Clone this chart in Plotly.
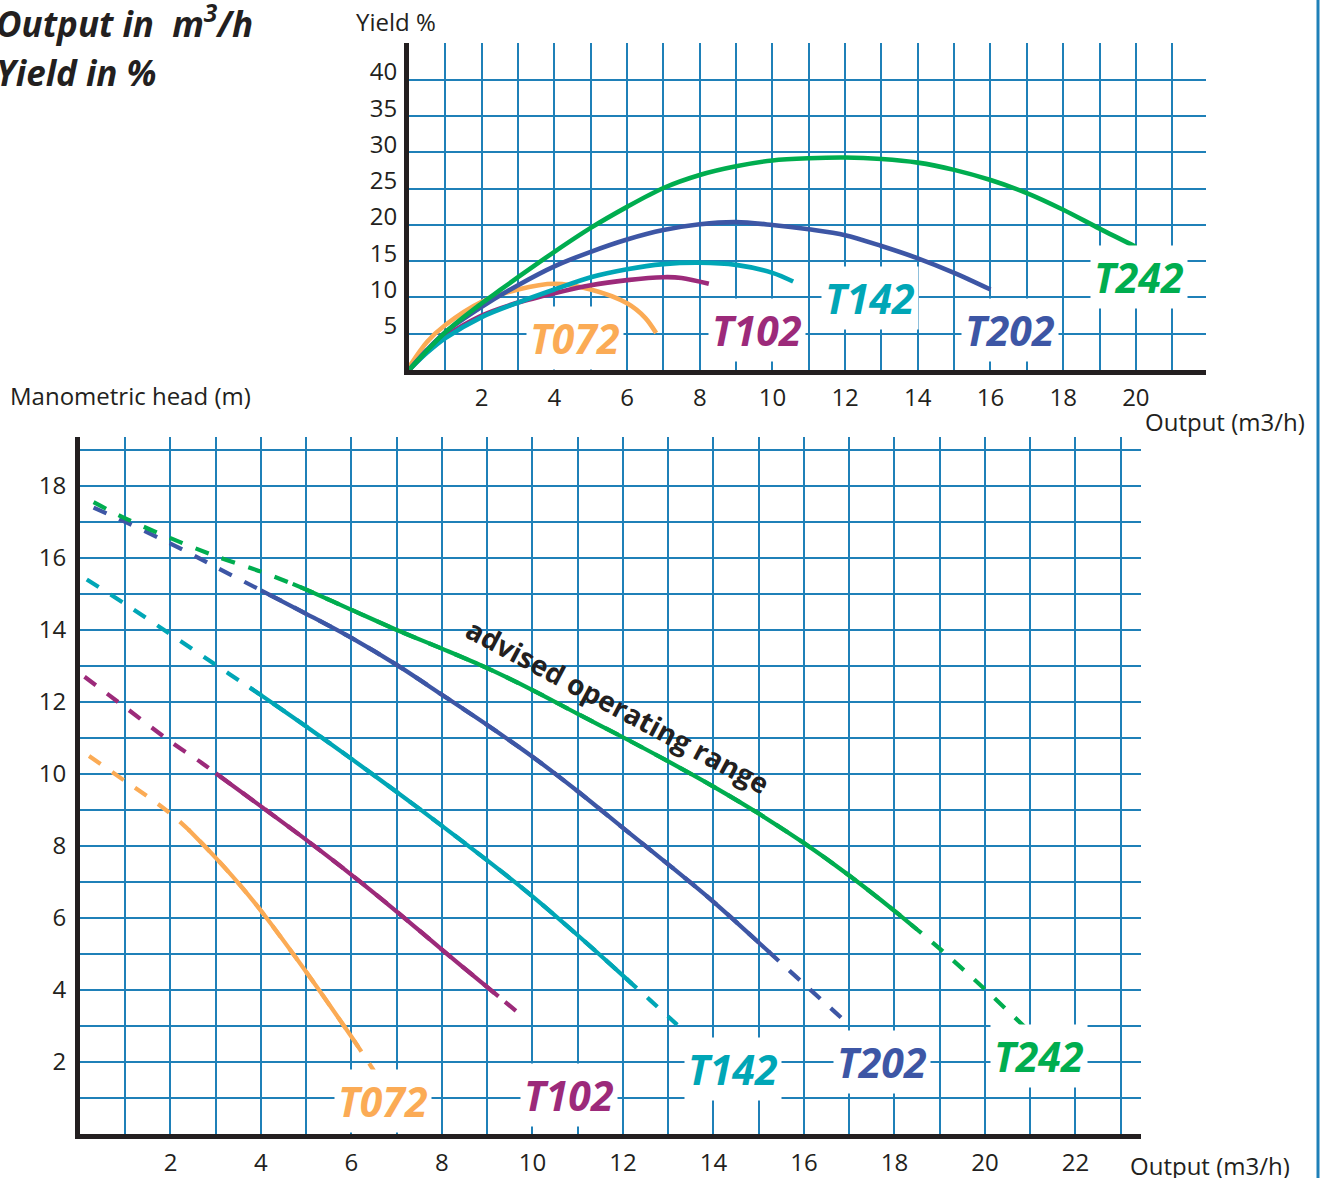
import plotly.graph_objects as go

W, H = 1323, 1178

# ---------------- DATA ----------------
models = ["T072", "T102", "T142", "T202", "T242"]

# Top chart: yield (%) versus output (m3/h)
t072_q_yield = [0, 0.5, 1, 2, 3, 4, 5, 6, 6.5, 6.8]
t072_yield = [0.4, 3.9, 6.2, 9.4, 11.1, 11.9, 11.1, 9.2, 7.2, 5.1]
t102_q_yield = [0, 0.5, 1, 2, 3, 4, 5, 6, 7, 7.5, 8.25]
t102_yield = [0, 2.5, 4.6, 7.5, 9.3, 10.6, 11.7, 12.4, 12.8, 12.7, 11.9]
t142_q_yield = [0, 0.5, 1, 2, 3, 4, 5, 6, 7, 8, 9, 10, 10.57]
t142_yield = [0, 2.4, 4.4, 7.3, 9.3, 11.1, 12.8, 13.9, 14.6, 14.8, 14.5, 13.4, 12.2]
t202_q_yield = [0, 0.5, 1, 2, 3, 4, 5, 6, 7, 8, 9, 10, 11, 12, 13, 14, 15, 16]
t202_yield = [0, 2.8, 5.2, 8.7, 11.7, 14.3, 16.3, 18.0, 19.3, 20.1, 20.4, 20.0, 19.4, 18.6, 17.1, 15.4, 13.4, 11.1]
t242_q_yield = [0, 1, 2, 2.5, 3, 4, 5, 6, 7, 8, 9, 10, 11, 12, 13, 14, 15, 16, 17, 18, 19, 20]
t242_yield = [0, 5.2, 9.2, 11.0, 12.8, 16.3, 19.6, 22.5, 25.1, 26.9, 28.1, 28.9, 29.2, 29.3, 29.1, 28.6,
              27.6, 26.2, 24.4, 22.1, 19.5, 17.0]

# Bottom chart: manometric head (m) versus output (m3/h)
t072_q_head = [0.2, 1.0, 1.6, 2.0, 2.4, 3.0, 3.5, 4.0, 5.0, 6.0, 6.15, 6.5]
t072_head = [10.5, 9.8, 9.28, 8.9, 8.45, 7.67, 6.97, 6.2, 4.5, 2.7, 2.42, 1.75]
t102_q_head = [0.1, 1.0, 2.0, 2.7, 3.0, 4.0, 5.0, 6.0, 7.0, 8.0, 9.0, 9.25, 9.8]
t102_head = [12.7, 11.85, 10.9, 10.3, 10.02, 9.1, 8.17, 7.2, 6.18, 5.12, 4.08, 3.82, 3.25]
t142_q_head = [0.15, 1.0, 2.0, 3.0, 3.75, 4.0, 5.0, 6.0, 7.0, 8.0, 9.0, 10.0, 11.0, 12.0, 12.2, 12.6, 13.2]
t142_head = [15.4, 14.72, 13.88, 13.03, 12.4, 12.19, 11.32, 10.42, 9.5, 8.56, 7.6, 6.6, 5.52, 4.4, 4.17, 3.72, 3.03]
t202_q_head = [0.3, 1.0, 2.0, 3.0, 4.0, 5.0, 6.0, 7.0, 8.0, 9.0, 10.0, 11.0, 12.0, 13.0, 14.0, 15.0,
               15.25, 16.0, 16.85]
t202_head = [17.4, 17.0, 16.4, 15.75, 15.1, 14.45, 13.78, 13.03, 12.2, 11.36, 10.48, 9.52, 8.5, 7.49, 6.45,
             5.32, 5.03, 4.17, 3.2]
t242_q_head = [0.3, 1.0, 2.0, 3.0, 4.0, 4.7, 5.0, 6.0, 7.0, 8.0, 9.0, 10.0, 11.0, 12.0, 13.0, 14.0, 15.0,
               16.0, 17.0, 18.0, 18.5, 19.0, 20.0, 20.9]
t242_head = [17.55, 17.1, 16.55, 16.05, 15.62, 15.28, 15.12, 14.56, 14.0, 13.48, 12.94, 12.33, 11.67, 11.02,
             10.35, 9.65, 8.9, 8.08, 7.18, 6.2, 5.68, 5.15, 4.02, 2.95]

# advised operating range (solid part) per model: [from, to] output
t072_advised = [2.4, 6.15]
t102_advised = [3.0, 9.25]
t142_advised = [3.75, 12.2]
t202_advised = [4.0, 15.25]
t242_advised = [4.7, 18.5]

top_x_ticks = [2, 4, 6, 8, 10, 12, 14, 16, 18, 20]
top_y_ticks = [5, 10, 15, 20, 25, 30, 35, 40]
bottom_x_ticks = [2, 4, 6, 8, 10, 12, 14, 16, 18, 20, 22]
bottom_y_ticks = [2, 4, 6, 8, 10, 12, 14, 16, 18]

# label positions (data coordinates)
top_label_q = [4.57, 9.57, 12.68, 16.53, 20.1]
top_label_y = [4.4, 5.5, 9.9, 5.5, 12.8]
bottom_label_q = [6.7, 10.8, 14.43, 17.73, 21.2]
bottom_label_h = [0.92, 1.08, 1.8, 2.0, 2.17]

# ---------------- STYLE ----------------
colors = {"T072": "#fbab55", "T102": "#9c2a7a", "T142": "#00a6b6", "T202": "#3d56a5", "T242": "#00ad4f"}
GRID = "#1f80b8"
INK = "#231f20"
FONT = "Open Sans"
DASH = "14px,14px"
TXT = 24

yield_data = {
    "T072": (t072_q_yield, t072_yield), "T102": (t102_q_yield, t102_yield),
    "T142": (t142_q_yield, t142_yield), "T202": (t202_q_yield, t202_yield),
    "T242": (t242_q_yield, t242_yield),
}
head_data = {
    "T072": (t072_q_head, t072_head, t072_advised), "T102": (t102_q_head, t102_head, t102_advised),
    "T142": (t142_q_head, t142_head, t142_advised), "T202": (t202_q_head, t202_head, t202_advised),
    "T242": (t242_q_head, t242_head, t242_advised),
}


def px(x):
    return x / W


def py(y):
    return 1 - y / H


fig = go.Figure()

# top chart curves
for m in models:
    q, y = yield_data[m]
    fig.add_trace(go.Scatter(x=q, y=y, mode="lines", xaxis="x", yaxis="y",
                             line=dict(color=colors[m], width=4.6, shape="spline", smoothing=0.9),
                             hoverinfo="skip", showlegend=False))

# bottom chart curves: whole curve dashed, advised range drawn solid on top
for m in models:
    q, h, (lo, hi) = head_data[m]
    fig.add_trace(go.Scatter(x=q, y=h, mode="lines", xaxis="x2", yaxis="y2",
                             line=dict(color=colors[m], width=4.2, dash=DASH, shape="spline", smoothing=0.9),
                             hoverinfo="skip", showlegend=False))
    sx = [a for a in q if lo <= a <= hi]
    sy = [b for a, b in zip(q, h) if lo <= a <= hi]
    fig.add_trace(go.Scatter(x=sx, y=sy, mode="lines", xaxis="x2", yaxis="y2",
                             line=dict(color=colors[m], width=4.2, shape="spline", smoothing=0.9),
                             hoverinfo="skip", showlegend=False))

tickfont = dict(family=FONT, size=TXT, color=INK)

top_grid_x = list(range(1, 22))
bottom_grid_x = list(range(1, 24))
bottom_grid_y = list(range(1, 20))

fig.update_layout(
    width=W, height=H, margin=dict(l=0, r=0, t=0, b=0),
    paper_bgcolor="white", plot_bgcolor="white",
    font=dict(family=FONT, color=INK),
    xaxis=dict(domain=[px(409), px(1206)], range=[0, 21.93], anchor="y",
               tickmode="array", tickvals=top_grid_x,
               ticktext=[str(v) if v in top_x_ticks else "" for v in top_grid_x],
               showgrid=True, gridcolor=GRID, gridwidth=2, zeroline=False,
               showline=True, linecolor=INK, linewidth=5, ticks="",
               tickfont=tickfont, ticklabelstandoff=2),
    yaxis=dict(domain=[py(370), py(43)], range=[0, 45.1], anchor="x",
               tickmode="array", tickvals=top_y_ticks, ticktext=[str(v) for v in top_y_ticks],
               showgrid=True, gridcolor=GRID, gridwidth=2, zeroline=False,
               showline=True, linecolor=INK, linewidth=5, ticks="",
               tickfont=tickfont, ticklabelstandoff=2, ticklabelshift=-8),
    xaxis2=dict(domain=[px(80), px(1141)], range=[0, 23.45], anchor="y2",
                tickmode="array", tickvals=bottom_grid_x,
                ticktext=[str(v) if v in bottom_x_ticks else "" for v in bottom_grid_x],
                showgrid=True, gridcolor=GRID, gridwidth=2, zeroline=False,
                showline=True, linecolor=INK, linewidth=5, ticks="",
                tickfont=tickfont, ticklabelstandoff=3),
    yaxis2=dict(domain=[py(1134), py(437)], range=[0, 19.36], anchor="x2",
                tickmode="array", tickvals=bottom_grid_y,
                ticktext=[str(v) if v in bottom_y_ticks else "" for v in bottom_grid_y],
                showgrid=True, gridcolor=GRID, gridwidth=2, zeroline=False,
                showline=True, linecolor=INK, linewidth=5, ticks="",
                tickfont=tickfont, ticklabelstandoff=4),
)

ann = []
# model labels
for i, m in enumerate(models):
    for xr, yr, xs, ys in (("x", "y", top_label_q, top_label_y), ("x2", "y2", bottom_label_q, bottom_label_h)):
        ann.append(dict(x=xs[i], y=ys[i], xref=xr, yref=yr, showarrow=False,
                        xanchor="center", yanchor="middle",
                        text="<b><i>%s</i></b>" % m, bgcolor="white", borderpad=3,
                        font=dict(family=FONT, size=41, color=colors[m])))

ann.append(dict(x=11.9, y=11.9, xref="x2", yref="y2", showarrow=False,
                xanchor="center", yanchor="middle",
                text="<b>advised operating range</b>", textangle=28,
                font=dict(family=FONT, size=28, color=INK)))


def paper_text(text, x, y, size, xanchor="center"):
    return dict(x=px(x), y=py(y), xref="paper", yref="paper", xanchor=xanchor, yanchor="middle",
                showarrow=False, text=text, font=dict(family=FONT, size=size, color=INK))


ann += [
    paper_text("<b><i>Output in  m<sup>3</sup>/h</i></b>", -6, 22, 35, "left"),
    paper_text("<b><i>Yield in %</i></b>", -6, 72, 35, "left"),
    paper_text("Yield %", 396, 22, TXT),
    paper_text("Output (m3/h)", 1225, 421, TXT),
    paper_text("Manometric head (m)", 130, 395, TXT),
    paper_text("Output (m3/h)", 1210, 1165, TXT),
]
fig.update_layout(annotations=ann)

fig.add_shape(type="line", xref="paper", yref="paper", x0=px(1318), x1=px(1318), y0=0, y1=1,
              line=dict(color=GRID, width=3))

fig.write_html("out.html", config={"displayModeBar": False},
               post_script="document.body.style.margin='0';document.body.style.overflow='hidden';")
